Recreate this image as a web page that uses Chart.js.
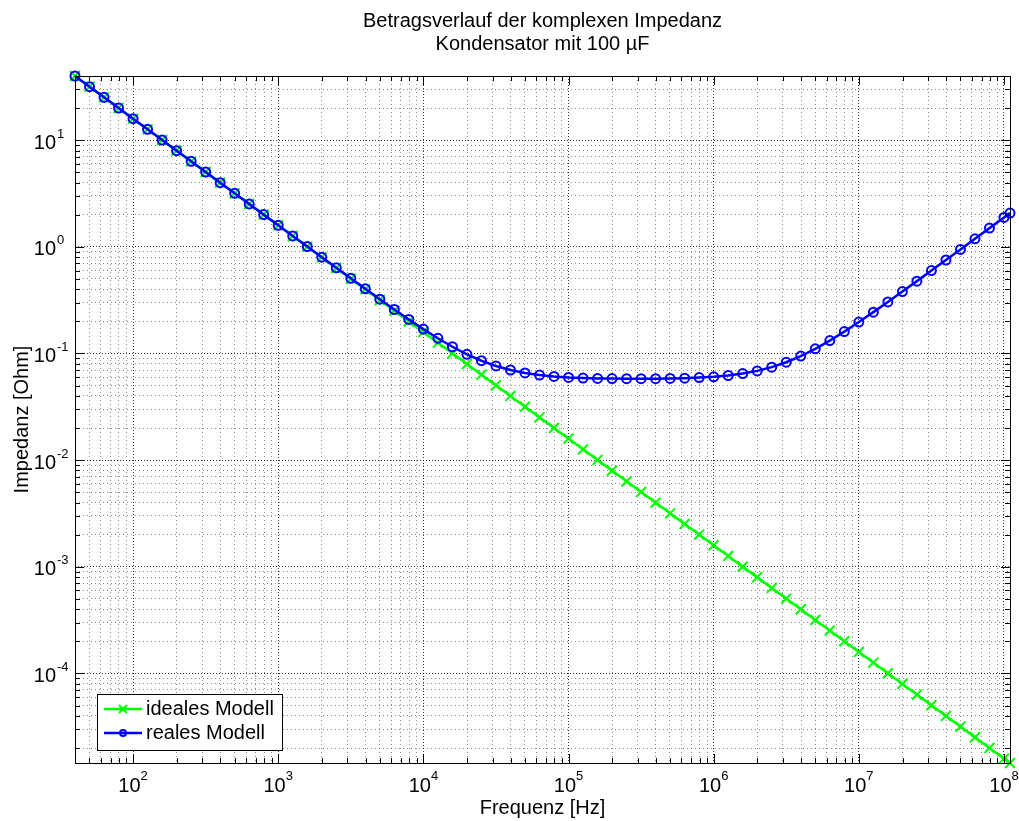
<!DOCTYPE html>
<html>
<head>
<meta charset="utf-8">
<script src="https://cdn.jsdelivr.net/npm/chart.js@4.4.1/dist/chart.umd.min.js"></script>
<style>
html, body { margin: 0; padding: 0; background: #fff; }
#wrap { width: 1019px; height: 821px; }
</style>
</head>
<body>
<div id="wrap"><canvas id="chart" width="1019" height="821"></canvas></div>
<script>
// Frequenzpunkte [Hz], 10 pro Dekade
const freq = [
    3.981e1, 5.012e1, 6.310e1, 7.943e1,
    1e2, 1.259e2, 1.585e2, 1.995e2, 2.512e2, 3.162e2, 3.981e2, 5.012e2, 6.310e2, 7.943e2,
    1e3, 1.259e3, 1.585e3, 1.995e3, 2.512e3, 3.162e3, 3.981e3, 5.012e3, 6.310e3, 7.943e3,
    1e4, 1.259e4, 1.585e4, 1.995e4, 2.512e4, 3.162e4, 3.981e4, 5.012e4, 6.310e4, 7.943e4,
    1e5, 1.259e5, 1.585e5, 1.995e5, 2.512e5, 3.162e5, 3.981e5, 5.012e5, 6.310e5, 7.943e5,
    1e6, 1.259e6, 1.585e6, 1.995e6, 2.512e6, 3.162e6, 3.981e6, 5.012e6, 6.310e6, 7.943e6,
    1e7, 1.259e7, 1.585e7, 1.995e7, 2.512e7, 3.162e7, 3.981e7, 5.012e7, 6.310e7, 7.943e7,
    1e8, 1.1e8
];

// |Z| ideales Modell [Ohm]
const zIdeal = [
    39.98, 31.75, 25.22, 20.04,
    15.92, 12.64, 10.04, 7.976, 6.336, 5.033, 3.998, 3.175, 2.522, 2.004,
    1.592, 1.264, 1.004, 0.7976, 0.6336, 0.5033, 0.3998, 0.3175, 0.2522, 0.2004,
    0.1592, 0.1264, 0.1004, 0.07976, 0.06336, 0.05033, 0.03998, 0.03175, 0.02522, 0.02004,
    0.01592, 0.01264, 0.01004, 0.007976, 0.006336, 0.005033, 0.003998, 0.003175, 0.002522, 0.002004,
    0.001592, 0.001264, 0.001004, 7.976e-4, 6.336e-4, 5.033e-4, 3.998e-4, 3.175e-4, 2.522e-4, 2.004e-4,
    1.592e-4, 1.264e-4, 1.004e-4, 7.976e-5, 6.336e-5, 5.033e-5, 3.998e-5, 3.175e-5, 2.522e-5, 2.004e-5,
    1.592e-5, 1.447e-5
];

// |Z| reales Modell [Ohm]
const zReal = [
    39.98, 31.75, 25.22, 20.04,
    15.92, 12.64, 10.04, 7.976, 6.336, 5.033, 3.998, 3.176, 2.523, 2.005,
    1.593, 1.265, 1.006, 0.7997, 0.6363, 0.5066, 0.4040, 0.3227, 0.2586, 0.2084,
    0.1693, 0.1389, 0.1157, 0.09831, 0.08555, 0.07640, 0.07002, 0.06567, 0.06278, 0.06089,
    0.05967, 0.05890, 0.05843, 0.05815, 0.05802, 0.05801, 0.05811, 0.05834, 0.05875, 0.05943,
    0.06051, 0.06220, 0.06479, 0.06870, 0.07448, 0.08281, 0.09453, 0.1106, 0.1321, 0.1604,
    0.1971, 0.2442, 0.3043, 0.3805, 0.4770, 0.5989, 0.7526, 0.9465, 1.190, 1.498,
    1.886, 2.074
];

const xDecades = [2, 3, 4, 5, 6, 7, 8];
const yDecades = [1, 0, -1, -2, -3, -4];
const titleLines = ['Betragsverlauf der komplexen Impedanz', 'Kondensator mit 100 µF'];
const xTitle = 'Frequenz [Hz]';
const yTitle = 'Impedanz [Ohm]';
const seriesNames = ['ideales Modell', 'reales Modell'];

const FONT = '"Liberation Sans", Arial, Helvetica, sans-serif';
const GREEN = '#00ff00';
const BLUE = '#0000ff';

const xMin = freq[0], xMax = freq[freq.length - 1];
const yMin = Math.min(...zIdeal, ...zReal), yMax = Math.max(...zIdeal, ...zReal);

// 1..9 x 10^n fuer Gitter und Ticks
function logTicks(min, max) {
    const ticks = [];
    for (let e = Math.floor(Math.log10(min)); e <= Math.ceil(Math.log10(max)); e++) {
        for (let m = 1; m <= 9; m++) {
            const v = m * Math.pow(10, e);
            if (v >= min * 0.9999 && v <= max * 1.0001) ticks.push({ value: v, major: m === 1 });
        }
    }
    return ticks;
}

const gridColor = ctx => (ctx.tick && ctx.tick.major) ? 'rgba(0,0,0,0.8)' : 'rgba(0,0,0,0.45)';
const gridDash = ctx => (ctx.tick && ctx.tick.major) ? [1, 2] : [1, 3];

function drawCross(c, x, y, r) {
    c.beginPath();
    c.moveTo(x - r, y - r); c.lineTo(x + r, y + r);
    c.moveTo(x - r, y + r); c.lineTo(x + r, y - r);
    c.stroke();
}

const matlabAxes = {
    id: 'matlabAxes',
    beforeDraw(chart) {
        const c = chart.ctx;
        c.save();
        c.fillStyle = '#fff';
        c.fillRect(0, 0, chart.width, chart.height);
        c.restore();
    },
    afterDatasetsDraw(chart) {
        const c = chart.ctx, ca = chart.chartArea;
        const xs = chart.scales.x, ys = chart.scales.y;
        c.save();

        // Ticks nach innen, alle vier Seiten
        c.strokeStyle = '#000';
        c.lineWidth = 1;
        c.beginPath();
        xs.ticks.forEach(t => {
            const px = Math.round(xs.getPixelForValue(t.value)) + 0.5;
            const len = t.major ? 9 : 5;
            c.moveTo(px, ca.bottom); c.lineTo(px, ca.bottom - len);
            c.moveTo(px, ca.top); c.lineTo(px, ca.top + len);
        });
        ys.ticks.forEach(t => {
            const py = Math.round(ys.getPixelForValue(t.value)) + 0.5;
            const len = t.major ? 9 : 5;
            c.moveTo(ca.left, py); c.lineTo(ca.left + len, py);
            c.moveTo(ca.right, py); c.lineTo(ca.right - len, py);
        });
        c.stroke();
        c.strokeRect(Math.round(ca.left) + 0.5, Math.round(ca.top) + 0.5,
            Math.round(ca.right - ca.left), Math.round(ca.bottom - ca.top));

        // Tick-Beschriftung 10^n
        c.fillStyle = '#000';
        c.textBaseline = 'middle';
        xDecades.forEach(e => {
            const px = xs.getPixelForValue(Math.pow(10, e));
            c.font = '20px ' + FONT;
            const w10 = c.measureText('10').width;
            c.font = '13px ' + FONT;
            const ws = c.measureText(String(e)).width;
            const x0 = px - (w10 + ws) / 2;
            c.textAlign = 'left';
            c.font = '20px ' + FONT;
            c.fillText('10', x0, ca.bottom + 23);
            c.font = '13px ' + FONT;
            c.fillText(String(e), x0 + w10, ca.bottom + 13);
        });
        yDecades.forEach(e => {
            const py = ys.getPixelForValue(Math.pow(10, e));
            const xr = ca.left - 19;
            c.font = '20px ' + FONT;
            c.textAlign = 'right';
            c.fillText('10', xr, py + 3);
            c.font = '13px ' + FONT;
            c.textAlign = 'left';
            c.fillText(String(e), xr + 1, py - 6);
        });

        // Achsentitel und Titel
        const cx = (ca.left + ca.right) / 2;
        c.font = '20px ' + FONT;
        c.textAlign = 'center';
        c.fillText(xTitle, cx, ca.bottom + 45);
        titleLines.forEach((t, i) => c.fillText(t, cx, 21 + i * 23));
        c.save();
        c.translate(22, (ca.top + ca.bottom) / 2);
        c.rotate(-Math.PI / 2);
        c.fillText(yTitle, 0, 0);
        c.restore();

        // Legende unten links
        const lx = ca.left + 22, ly = ca.bottom - 69, lw = 185, lh = 56;
        c.fillStyle = '#fff';
        c.fillRect(lx, ly, lw, lh);
        c.strokeStyle = '#000';
        c.lineWidth = 1;
        c.strokeRect(lx + 0.5, ly + 0.5, lw, lh);
        const rows = [
            { name: seriesNames[0], color: GREEN, marker: 'x' },
            { name: seriesNames[1], color: BLUE, marker: 'o' }
        ];
        rows.forEach((r, i) => {
            const yy = ly + 15 + i * 24;
            c.strokeStyle = r.color;
            c.lineWidth = 2.5;
            c.beginPath();
            c.moveTo(lx + 7, yy); c.lineTo(lx + 45, yy);
            c.stroke();
            c.lineWidth = 2;
            if (r.marker === 'x') {
                drawCross(c, lx + 26, yy, 4);
            } else {
                c.beginPath();
                c.arc(lx + 26, yy, 3, 0, Math.PI * 2);
                c.stroke();
            }
            c.fillStyle = '#000';
            c.font = '20px ' + FONT;
            c.textAlign = 'left';
            c.fillText(r.name, lx + 49, yy);
        });
        c.restore();
    }
};

const axisOpts = (min, max) => ({
    type: 'logarithmic',
    min, max,
    afterBuildTicks: s => { s.ticks = logTicks(min, max); },
    ticks: { display: false },
    grid: { drawTicks: false, color: gridColor, lineWidth: 1 },
    border: { display: false, dash: gridDash }
});

new Chart(document.getElementById('chart'), {
    type: 'line',
    data: {
        datasets: [
            {
                label: seriesNames[1],
                data: freq.map((f, i) => ({ x: f, y: zReal[i] })),
                borderColor: BLUE,
                borderWidth: 2.5,
                pointStyle: 'circle',
                pointRadius: 4.5,
                pointBorderWidth: 2,
                pointBorderColor: BLUE,
                pointBackgroundColor: 'rgba(0,0,0,0)',
                order: 0,
                clip: false
            },
            {
                label: seriesNames[0],
                data: freq.map((f, i) => ({ x: f, y: zIdeal[i] })),
                borderColor: GREEN,
                borderWidth: 2.5,
                pointStyle: 'crossRot',
                pointRadius: 7,
                pointBorderWidth: 2,
                pointBorderColor: GREEN,
                pointBackgroundColor: GREEN,
                order: 1,
                clip: false
            }
        ]
    },
    options: {
        responsive: false,
        animation: false,
        layout: { padding: { left: 75, right: 6, top: 76, bottom: 58 } },
        plugins: {
            legend: { display: false },
            title: { display: false },
            tooltip: { enabled: false }
        },
        scales: {
            x: axisOpts(xMin, xMax),
            y: axisOpts(yMin, yMax)
        }
    },
    plugins: [matlabAxes]
});
</script>
</body>
</html>
